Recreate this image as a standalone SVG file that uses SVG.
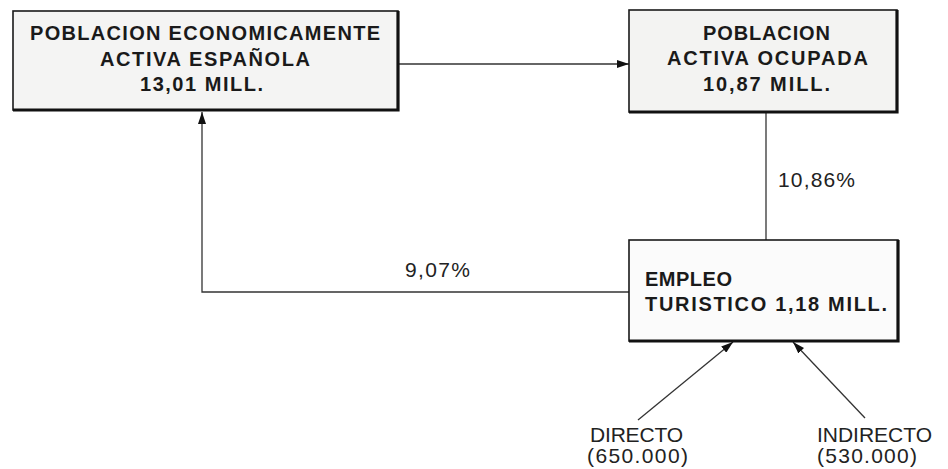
<svg xmlns="http://www.w3.org/2000/svg" width="948" height="469" viewBox="0 0 948 469">
<style>
.box{stroke:#1a1a1a;stroke-width:1.6}
.shadow{stroke:#111;stroke-width:3.2;fill:none}
.bt{font-family:"Liberation Sans",Arial,sans-serif;font-weight:bold;font-size:20px;fill:#1a1a1a}
.lt{font-family:"Liberation Sans",Arial,sans-serif;font-size:21px;fill:#222}
.ln{stroke:#333;stroke-width:1.3;fill:none}
</style>
<defs>
<marker id="ah" viewBox="0 0 12 8" refX="12" refY="4" markerWidth="12" markerHeight="8" markerUnits="userSpaceOnUse" orient="auto">
<path d="M0,0 L12,4 L0,8 Z" fill="#111"/>
</marker>
</defs>
<rect width="948" height="469" fill="#fff"/>
<g id="connectors">
<line class="ln" x1="398" y1="64" x2="629" y2="64" marker-end="url(#ah)"/>
<line class="ln" x1="766" y1="113" x2="766" y2="240"/>
<polyline class="ln" points="629,292 202,292 202,112" marker-end="url(#ah)"/>
<line class="ln" x1="638" y1="420" x2="733" y2="342" marker-end="url(#ah)"/>
<line class="ln" x1="865" y1="418" x2="793" y2="342" marker-end="url(#ah)"/>
<text class="lt" x="778" y="187" textLength="77" lengthAdjust="spacing">10,86%</text>
<text class="lt" x="405" y="277" textLength="65" lengthAdjust="spacing">9,07%</text>
</g>
<g id="n1">
<rect class="box" x="13" y="11" width="385" height="99" fill="#f4f4f3"/>
<polyline class="shadow" points="13,110 398,110 398,11"/>
<text class="bt" x="30" y="40" textLength="350" lengthAdjust="spacing">POBLACION ECONOMICAMENTE</text>
<text class="bt" x="100" y="66" textLength="210" lengthAdjust="spacing">ACTIVA ESPAÑOLA</text>
<text class="bt" x="140" y="91" textLength="123" lengthAdjust="spacing">13,01 MILL.</text>
</g>
<g id="n2">
<rect class="box" x="629" y="10" width="268" height="102" fill="#f3f3f2"/>
<polyline class="shadow" points="629,112 897,112 897,10"/>
<text class="bt" x="703" y="40" textLength="127" lengthAdjust="spacing">POBLACION</text>
<text class="bt" x="667" y="65" textLength="201" lengthAdjust="spacing">ACTIVA OCUPADA</text>
<text class="bt" x="703" y="91" textLength="127" lengthAdjust="spacing">10,87 MILL.</text>
</g>
<g id="n3">
<rect class="box" x="629" y="240" width="269" height="101" fill="#fbfbfb"/>
<polyline class="shadow" points="629,341 898,341 898,240"/>
<text class="bt" x="645" y="286" textLength="87" lengthAdjust="spacing">EMPLEO</text>
<text class="bt" x="645" y="311" textLength="242" lengthAdjust="spacing">TURISTICO 1,18 MILL.</text>
</g>
<g id="n4">
<text class="lt" x="590" y="442" textLength="93" lengthAdjust="spacing">DIRECTO</text>
<text class="lt" x="587" y="463" textLength="101" lengthAdjust="spacing">(650.000)</text>
</g>
<g id="n5">
<text class="lt" x="817" y="442" textLength="115" lengthAdjust="spacing">INDIRECTO</text>
<text class="lt" x="817" y="463" textLength="100" lengthAdjust="spacing">(530.000)</text>
</g>
</svg>
